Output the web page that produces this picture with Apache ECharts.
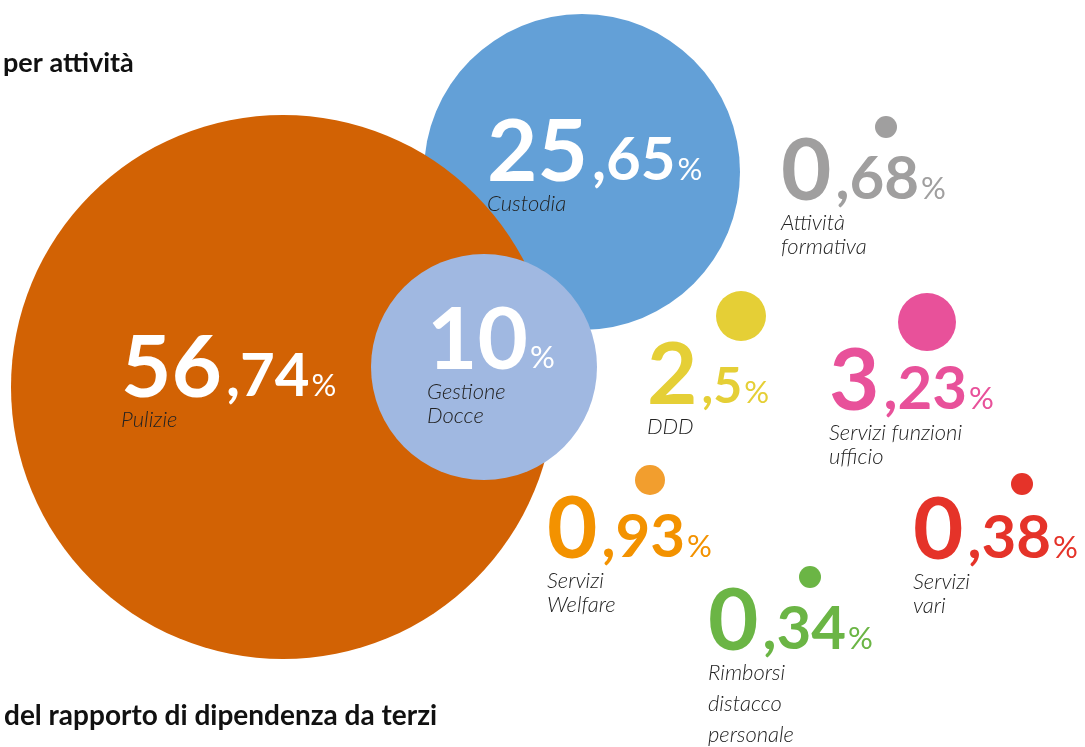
<!DOCTYPE html>
<html>
<head>
<meta charset="utf-8">
<script src="https://cdn.jsdelivr.net/npm/echarts@6/dist/echarts.min.js"></script>
<style>
html,body{margin:0;padding:0;background:#fff}
#chart{width:1085px;height:747px}
</style>
</head>
<body>
<div id="chart"></div>
<script>
// dati (Custodia prima di Pulizie: il cerchio arancio sta sopra)
var voci = ['Custodia', 'Pulizie', 'Gestione\nDocce', 'Attività\nformativa', 'DDD',
	'Servizi funzioni\nufficio', 'Servizi\nWelfare', 'Servizi\nvari', 'Rimborsi\ndistacco\npersonale'];
var percentuali = [25.65, 56.74, 10, 0.68, 2.5, 3.23, 0.93, 0.38, 0.34];

// impaginazione
var cerchioX = [582, 283, 484, 886, 741, 927, 650, 1022, 810];
var cerchioY = [172, 387, 367, 127, 316, 322, 480, 484, 577];
var raggio = [158, 272, 113, 11, 25, 29, 15, 11, 11];
var testoX = [487, 121, 427, 781, 647, 829, 547, 913, 708];
var testoBase = [179, 395, 367, 198, 402, 408, 556, 557, 648];
var decSize = [60, 60, 60, 60, 50, 60, 60, 60, 60];
var righe = [24, 24, 24, 24, 24, 24, 24, 24, 31];
var colori = ['#63A0D7', '#D26204', '#A0B8E1', '#A09F9F', '#E5CF36', '#E8519A', '#F29E2E', '#E53329', '#6BB545'];
var coloriNumeri = ['#fff', '#fff', '#fff', '#A09F9F', '#E5CF36', '#E8519A', '#F39200', '#E53329', '#6BB545'];

var SI = 87, SP = 31; // corpo intero e percento

var dati = [];
for (var i = 0; i < voci.length; i++) {
	var parti = String(percentuali[i]).split('.');
	var dec = parti.length > 1 ? ',' + parti[1] : '';
	var testo = '{i|' + parti[0] + '}' + (dec ? '{d|' + dec + '}' : '') + '{p|%}';
	var nomi = voci[i].split('\n').map(function (s) { return '{n|' + s + '}'; }).join('\n');
	var L = righe[i] == 24 ? 83 : 79;
	var alto = testoBase[i] - 0.8 * SI;
	dati.push({
		value: [cerchioX[i], cerchioY[i]],
		symbolSize: raggio[i] * 2,
		itemStyle: { color: colori[i], opacity: 1 },
		label: {
			show: true,
			position: [testoX[i] - (cerchioX[i] - raggio[i]), alto - (cerchioY[i] - raggio[i])],
			formatter: testo + '\n' + nomi,
			rich: {
				i: { fontFamily: 'Lato', fontWeight: 'bold', fontSize: SI, color: coloriNumeri[i],
					lineHeight: L, verticalAlign: 'top' },
				d: { fontFamily: 'Lato', fontWeight: 'bold', fontSize: decSize[i], color: coloriNumeri[i],
					lineHeight: L, verticalAlign: 'top', padding: [0.8 * (SI - decSize[i]), 0, 0, 4] },
				p: { fontFamily: 'Lato', fontWeight: 'normal', fontSize: SP, color: coloriNumeri[i],
					lineHeight: L, verticalAlign: 'top', padding: [0.8 * (SI - SP), 0, 0, 2] },
				n: { fontFamily: 'Lato', fontStyle: 'italic', fontWeight: 300, fontSize: 22, color: '#222',
					lineHeight: righe[i] }
			}
		}
	});
}

var chart = echarts.init(document.getElementById('chart'));
var option = {
	animation: false,
	title: [{
		text: 'per attività',
		left: -2, top: 45,
		textStyle: { fontFamily: 'Lato', fontWeight: 'bold', fontSize: 27, color: '#111' }
	}, {
		text: 'del rapporto di dipendenza da terzi',
		left: -1, top: 697,
		textStyle: { fontFamily: 'Lato', fontWeight: 'bold', fontSize: 28, color: '#111' }
	}],
	grid: { left: 0, right: 0, top: 0, bottom: 0 },
	xAxis: { type: 'value', min: 0, max: 1085, show: false },
	yAxis: { type: 'value', min: 0, max: 747, inverse: true, show: false },
	series: [{
		type: 'scatter',
		symbol: 'circle',
		silent: true,
		labelLayout: { hideOverlap: false },
		data: dati
	}]
};
chart.setOption(option);
</script>
</body>
</html>
